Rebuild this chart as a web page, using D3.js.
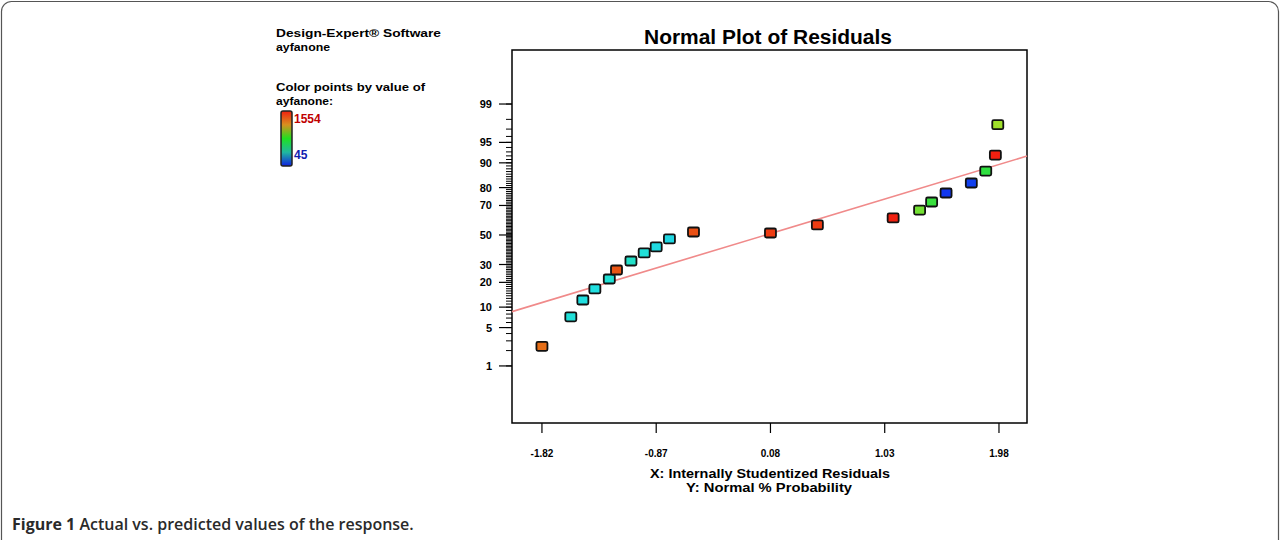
<!DOCTYPE html>
<html lang="en">
<head>
<meta charset="UTF-8">
<title>Normal Plot of Residuals</title>
<script src="https://cdn.jsdelivr.net/npm/d3@7/dist/d3.min.js"></script>
<style>
    body { margin: 0; background: #fff; }
    svg { display: block; }
    .de { font-family: "Liberation Sans", Arial, sans-serif; font-weight: bold; fill: #000; }
</style>
</head>
<body>
<svg id="chart" width="1281" height="540"></svg>
<script>
// residuals (x) and normal % probability (y)
const residuals = [-1.82, -1.58, -1.48, -1.38, -1.26, -1.20, -1.08, -0.97, -0.87, -0.76, -0.56,
                   0.08, 0.47, 1.10, 1.32, 1.42, 1.54, 1.75, 1.87, 1.95, 1.97];
const probability = [2.4, 7.3, 12.4, 16.9, 21.7, 26.7, 32.2, 37.5, 41.6, 47.2, 52.1,
                     51.4, 57.1, 61.9, 67.1, 72.1, 77.2, 82.2, 87.2, 92.2, 97.5];
// response value used to colour each point
const response = [1400, 440, 420, 420, 450, 1450, 480, 440, 410, 400, 1460,
                  1500, 1500, 1554, 950, 820, 60, 80, 800, 1554, 1050];
const responseRange = [45, 1554];

const xTicks = [-1.82, -0.87, 0.08, 1.03, 1.98];
const xTickLabels = ["-1.82", "-0.87", "0.08", "1.03", "1.98"];
const yTicks = [1, 5, 10, 20, 30, 50, 70, 80, 90, 95, 99];
const yMinorTicks = d3.range(1, 100);

// reference line end points
const lineX = [-2.069, 2.213];
const lineP = [8.67, 91.97];

// inverse normal cdf (Acklam) for the probability axis
function probit(p) {
    const a = [-39.69683028665376, 220.9460984245205, -275.9285104469687, 138.3577518672690, -30.66479806614716, 2.506628277459239];
    const b = [-54.47609879822406, 161.5858368580409, -155.6989798598866, 66.80131188771972, -13.28068155288572];
    const c = [-0.007784894002430293, -0.3223964580411365, -2.400758277161838, -2.549732539343734, 4.374664141464968, 2.938163982698783];
    const d = [0.007784695709041462, 0.3224671290700398, 2.445134137142996, 3.754408661907416];
    const pl = 0.02425;
    let q, r;
    if (p < pl) {
        q = Math.sqrt(-2 * Math.log(p));
        return (((((c[0]*q+c[1])*q+c[2])*q+c[3])*q+c[4])*q+c[5]) / ((((d[0]*q+d[1])*q+d[2])*q+d[3])*q+1);
    } else if (p <= 1 - pl) {
        q = p - 0.5; r = q * q;
        return (((((a[0]*r+a[1])*r+a[2])*r+a[3])*r+a[4])*r+a[5])*q / (((((b[0]*r+b[1])*r+b[2])*r+b[3])*r+b[4])*r+1);
    }
    q = Math.sqrt(-2 * Math.log(1 - p));
    return -(((((c[0]*q+c[1])*q+c[2])*q+c[3])*q+c[4])*q+c[5]) / ((((d[0]*q+d[1])*q+d[2])*q+d[3])*q+1);
}

const svg = d3.select("#chart");
const box = { left: 512, right: 1027, top: 50, bottom: 423 };

const x = d3.scaleLinear().domain([-2.069, 2.213]).range([box.left, box.right]);
const z = d3.scaleLinear().domain([-3.34, 3.286]).range([box.bottom, box.top]);
const y = p => z(probit(p / 100));

const mid = (responseRange[0] + responseRange[1]) / 2;
const color = d3.scaleLinear()
    .domain([responseRange[0], (responseRange[0] + mid) / 2, mid, (mid + responseRange[1]) / 2, responseRange[1]])
    .range(["#1030f0", "#20e0e0", "#30e040", "#d8e020", "#f02010"]);

// squeezed bold label, like the blurry Design-Expert text
function label(g, px, py, size, len, txt) {
    return g.append("text").attr("class", "de")
        .attr("x", px).attr("y", py)
        .attr("font-size", size)
        .attr("textLength", len)
        .attr("lengthAdjust", "spacingAndGlyphs")
        .text(txt);
}

// outer figure frame
svg.append("rect")
    .attr("x", 1.5).attr("y", 1.5)
    .attr("width", 1277).attr("height", 580)
    .attr("rx", 10)
    .attr("fill", "none")
    .attr("stroke", "#555")
    .attr("stroke-width", 1.2);

// title
label(svg, 644, 44, 20, 248, "Normal Plot of Residuals");

// plot box
svg.append("rect")
    .attr("x", box.left).attr("y", box.top)
    .attr("width", box.right - box.left).attr("height", box.bottom - box.top)
    .attr("fill", "none").attr("stroke", "#000").attr("stroke-width", 1.5);

// y axis
const yg = svg.append("g");
yg.selectAll("line.minor").data(yMinorTicks).enter().append("line")
    .attr("x1", box.left - 6).attr("x2", box.left)
    .attr("y1", d => y(d)).attr("y2", d => y(d))
    .attr("stroke", "#000").attr("stroke-width", 1);
yg.selectAll("line.major").data(yTicks).enter().append("line")
    .attr("x1", box.left - 13).attr("x2", box.left)
    .attr("y1", d => y(d)).attr("y2", d => y(d))
    .attr("stroke", "#000").attr("stroke-width", 1.2);
yg.selectAll("text").data(yTicks).enter().append("text")
    .attr("class", "de")
    .attr("x", box.left - 20).attr("y", d => y(d) + 4)
    .attr("text-anchor", "end")
    .attr("font-size", 11)
    .text(d => d);

// x axis
const xg = svg.append("g");
xg.selectAll("line").data(xTicks).enter().append("line")
    .attr("x1", d => x(d)).attr("x2", d => x(d))
    .attr("y1", box.bottom).attr("y2", box.bottom + 10)
    .attr("stroke", "#000").attr("stroke-width", 1.2);
xg.selectAll("text").data(xTicks).enter().append("text")
    .attr("class", "de")
    .attr("x", d => x(d)).attr("y", 457)
    .attr("text-anchor", "middle")
    .attr("font-size", 10)
    .text((d, i) => xTickLabels[i]);

label(svg, 650, 478, 13, 240, "X: Internally Studentized Residuals");
label(svg, 686, 492, 13, 166, "Y: Normal % Probability");

// reference line
svg.append("line")
    .attr("x1", x(lineX[0])).attr("y1", y(lineP[0]))
    .attr("x2", x(lineX[1])).attr("y2", y(lineP[1]))
    .attr("stroke", "#f08a8a").attr("stroke-width", 1.6);

// points
svg.selectAll("rect.pt").data(residuals).enter().append("rect")
    .attr("class", "pt")
    .attr("x", d => x(d) - 5.5)
    .attr("y", (d, i) => y(probability[i]) - 4.5)
    .attr("width", 11).attr("height", 9)
    .attr("rx", 1.5)
    .attr("fill", (d, i) => color(response[i]))
    .attr("stroke", "#111").attr("stroke-width", 1.8);

// info block, top left
const info = svg.append("g");
label(info, 276, 37, 11, 165, "Design-Expert® Software");
label(info, 276, 51, 11, 54, "ayfanone");
label(info, 276, 91, 11, 149, "Color points by value of");
label(info, 276, 105, 11, 57, "ayfanone:");

const grad = svg.append("defs").append("linearGradient")
    .attr("id", "bar").attr("x1", 0).attr("y1", 0).attr("x2", 0).attr("y2", 1);
grad.selectAll("stop").data(["#f02010", "#d89020", "#20e020", "#20b8a0", "#1020e0"]).enter().append("stop")
    .attr("offset", (d, i) => i / 4)
    .attr("stop-color", d => d);
info.append("rect")
    .attr("x", 281).attr("y", 111).attr("width", 11).attr("height", 55)
    .attr("rx", 2)
    .attr("fill", "url(#bar)").attr("stroke", "#222").attr("stroke-width", 1.5);
info.append("text").attr("class", "de").attr("x", 294).attr("y", 123)
    .attr("font-size", 12).style("fill", "#c00000").text(responseRange[1]);
info.append("text").attr("class", "de").attr("x", 294).attr("y", 159)
    .attr("font-size", 12).style("fill", "#1020b0").text(responseRange[0]);

// caption
const cap = svg.append("text")
    .attr("x", 12).attr("y", 530)
    .attr("font-family", "'Open Sans', 'Noto Sans', sans-serif")
    .attr("font-size", 16)
    .attr("fill", "#2a2a2a");
cap.append("tspan").attr("font-weight", "bold").text("Figure 1");
cap.append("tspan").attr("font-weight", 600).text(" Actual vs. predicted values of the response.");
</script>
</body>
</html>
